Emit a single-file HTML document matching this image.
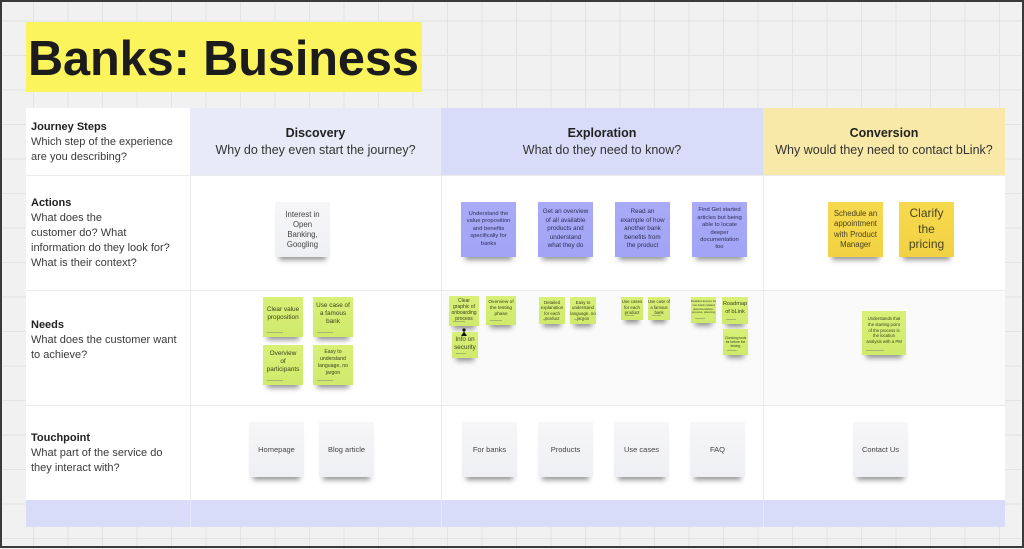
<!DOCTYPE html>
<html><head><meta charset="utf-8">
<style>
*{margin:0;padding:0;box-sizing:border-box}
html,body{width:1024px;height:549px;overflow:hidden}
body{position:relative;background-color:#f1f1f1;font-family:"Liberation Sans",Arial,sans-serif;
background-image:linear-gradient(to right,#e3e3e3 1px,transparent 1px),linear-gradient(to bottom,#e3e3e3 1px,transparent 1px);
background-size:34.5px 34.5px;background-position:33px 20.5px;}
.a{position:absolute}
.frame{left:0;top:0;width:1024px;height:548px;border:2px solid #3a3a3a;z-index:20}
.title{left:26px;top:22px;width:396px;height:70px;background:#fcf45d;}
.title span{position:absolute;left:2px;top:2px;line-height:70px;font-size:48.7px;font-weight:bold;color:#1c1c1c;white-space:nowrap;letter-spacing:-0.1px}
.vl{width:1px;background:#ebebeb}
.hl{height:1px;background:#ebebeb}
.lbl{left:31px;font-size:11px;line-height:15px;color:#3a3a3a;white-space:nowrap}
.lbl b{color:#222}
.hd{text-align:center;white-space:nowrap;color:#333;font-size:12.5px;line-height:17px}
.hd b{color:#222}
.s{position:absolute;display:flex;align-items:center;justify-content:center;text-align:center;color:#3a3a3a;white-space:nowrap;box-shadow:0 7px 5px -4px rgba(0,0,0,.42)}
.w{background:linear-gradient(#f6f6f8,#eff0f3);width:55px;height:55px;font-size:7.5px;line-height:10px;color:#444}
.p{background:linear-gradient(#a9abf8,#a1a3f5);width:55px;height:55px;color:#2f2f55}
.y{background:linear-gradient(#f6d94e,#f1d243);width:55px;height:55px;color:#4a4320}
.g{background:linear-gradient(#d8f077,#d0ea6c);color:#3a4020;align-items:flex-start}
.g .t{margin-top:0}
.g::after{content:"";position:absolute;left:4px;bottom:4px;width:40%;height:1.5px;background:#9aa86a;opacity:.8}
</style></head><body>

<div class="a title"><span>Banks: Business</span></div>

<!-- header row -->
<div class="a" style="left:26px;top:108px;width:164px;height:67px;background:#fff"></div>
<div class="a" style="left:190px;top:108px;width:251px;height:67px;background:#e8eaf7"></div>
<div class="a" style="left:441px;top:108px;width:322px;height:67px;background:#d9dcf8"></div>
<div class="a" style="left:763px;top:108px;width:242px;height:67px;background:#f8e9a8"></div>

<!-- body -->
<div class="a" style="left:26px;top:175px;width:979px;height:325px;background:#fff"></div>
<div class="a" style="left:441px;top:290px;width:564px;height:115px;background:#fafafa"></div>
<div class="a" style="left:26px;top:500px;width:979px;height:27px;background:#d9dcf8"></div>

<!-- lines -->
<div class="a hl" style="left:26px;top:175px;width:979px"></div>
<div class="a hl" style="left:26px;top:290px;width:979px"></div>
<div class="a hl" style="left:26px;top:405px;width:979px"></div>
<div class="a vl" style="left:190px;top:175px;height:352px"></div>
<div class="a vl" style="left:441px;top:175px;height:352px"></div>
<div class="a vl" style="left:763px;top:175px;height:352px"></div>
<div class="a" style="left:190px;top:500px;width:1px;height:27px;background:#e4e6fb"></div>
<div class="a" style="left:441px;top:500px;width:1px;height:27px;background:#e4e6fb"></div>
<div class="a" style="left:763px;top:500px;width:1px;height:27px;background:#e4e6fb"></div>

<!-- labels -->
<div class="a lbl" style="top:119.5px"><b>Journey Steps</b><br>Which step of the experience<br>are you describing?</div>
<div class="a lbl" style="top:195.5px"><b>Actions</b><br>What does the<br>customer do? What<br>information do they look for?<br>What is their context?</div>
<div class="a lbl" style="top:318px"><b>Needs</b><br>What does the customer want<br>to achieve?</div>
<div class="a lbl" style="top:430.5px"><b>Touchpoint</b><br>What part of the service do<br>they interact with?</div>

<!-- headers -->
<div class="a hd" style="left:190px;width:251px;top:124.5px"><b>Discovery</b><br>Why do they even start the journey?</div>
<div class="a hd" style="left:441px;width:322px;top:124.5px"><b>Exploration</b><br>What do they need to know?</div>
<div class="a hd" style="left:763px;width:242px;top:124.5px"><b>Conversion</b><br>Why would they need to contact bLink?</div>

<!-- Actions row -->
<div class="s w" style="left:275px;top:202px;font-size:7.8px;line-height:10px">Interest in<br>Open<br>Banking,<br>Googling</div>
<div class="s p" style="left:461px;top:202px;font-size:5.8px;line-height:7.4px">Understand the<br>value proposition<br>and benefits<br>specifically for<br>banks</div>
<div class="s p" style="left:538px;top:202px;font-size:6.3px;line-height:8.5px">Get an overview<br>of all available<br>products and<br>understand<br>what they do</div>
<div class="s p" style="left:615px;top:202px;font-size:6.3px;line-height:8.5px">Read an<br>example of how<br>another bank<br>benefits from<br>the product</div>
<div class="s p" style="left:692px;top:202px;font-size:5.9px;line-height:7.4px">Find Get started<br>articles but being<br>able to locate<br>deeper<br>documentation<br>too</div>
<div class="s y" style="left:828px;top:202px;font-size:7.8px;line-height:10.5px">Schedule an<br>appointment<br>with Product<br>Manager</div>
<div class="s y" style="left:899px;top:202px;font-size:12px;line-height:15.5px">Clarify<br>the<br>pricing</div>

<!-- Needs: Discovery -->
<div class="s g" style="left:263px;top:297px;width:40px;height:40px;font-size:6.4px;line-height:8px"><div style="margin-top:9px">Clear value<br>proposition</div></div>
<div class="s g" style="left:313px;top:297px;width:40px;height:40px;font-size:6.4px;line-height:8.3px"><div style="margin-top:4.5px">Use case of<br>a famous<br>bank</div></div>
<div class="s g" style="left:263px;top:345px;width:40px;height:40px;font-size:6.4px;line-height:8.3px"><div style="margin-top:4.5px">Overview<br>of<br>participants</div></div>
<div class="s g" style="left:313px;top:345px;width:40px;height:40px;font-size:5.2px;line-height:7px"><div style="margin-top:3.5px">Easy to<br>understand<br>language, no<br>jargon</div></div>

<!-- Needs: Exploration -->
<div class="s g" style="left:449px;top:296px;width:30px;height:30px;font-size:5px;line-height:6px"><div style="margin-top:2px">Clear<br>graphic of<br>onboarding<br>process</div></div>
<div class="s g" style="left:452px;top:332px;width:26px;height:26px;font-size:6.3px;line-height:8px"><div style="margin-top:4px">Info on<br>security</div></div>
<svg class="a" style="left:460px;top:328px" width="8" height="9" viewBox="0 0 8 9"><circle cx="4" cy="2" r="1.6" fill="#111"/><path d="M1 8 L4 3.5 L7 8 Z" fill="#111"/></svg>
<div class="s g" style="left:486px;top:296px;width:30px;height:29px;font-size:4.8px;line-height:6px"><div style="margin-top:4px">Overview of<br>the testing<br>phase</div></div>
<div class="s g" style="left:539px;top:297px;width:26px;height:27px;font-size:4.4px;line-height:5.5px"><div style="margin-top:2.5px">Detailed<br>explanation<br>for each<br>product</div></div>
<div class="s g" style="left:570px;top:297px;width:26px;height:27px;font-size:4.4px;line-height:5.5px"><div style="margin-top:2.5px">Easy to<br>understand<br>language, no<br>jargon</div></div>
<div class="s g" style="left:621px;top:297px;width:22px;height:23px;font-size:4.4px;line-height:5.5px"><div style="margin-top:2px">Use cases<br>for each<br>product</div></div>
<div class="s g" style="left:648px;top:297px;width:22px;height:23px;font-size:4.2px;line-height:5.5px"><div style="margin-top:2px">Use case of<br>a famous<br>bank</div></div>
<div class="s g" style="left:691px;top:297px;width:25px;height:26px;font-size:3px;line-height:3.8px"><div style="margin-top:3px">Detailed access for<br>non-bank related<br>documentation,<br>process, planning</div></div>
<div class="s g" style="left:722px;top:297px;width:26px;height:27px;font-size:5.6px;line-height:7.5px"><div style="margin-top:4px">Roadmap<br>of bLink</div></div>
<div class="s g" style="left:723px;top:329px;width:25px;height:26px;font-size:3.3px;line-height:4.2px"><div style="margin-top:7px">Checking tools<br>for before the<br>testing</div></div>

<!-- Needs: Conversion -->
<div class="s g" style="left:862px;top:311px;width:44px;height:44px;font-size:4.3px;line-height:5.8px"><div style="margin-top:5px">Understands that<br>the starting point<br>of the process is<br>the location<br>analysis with a PM</div></div>

<!-- Touchpoints -->
<div class="s w" style="left:249px;top:422px">Homepage</div>
<div class="s w" style="left:319px;top:422px">Blog article</div>
<div class="s w" style="left:462px;top:422px">For banks</div>
<div class="s w" style="left:538px;top:422px">Products</div>
<div class="s w" style="left:614px;top:422px">Use cases</div>
<div class="s w" style="left:690px;top:422px">FAQ</div>
<div class="s w" style="left:853px;top:422px">Contact Us</div>

<div class="a frame"></div>
</body></html>
